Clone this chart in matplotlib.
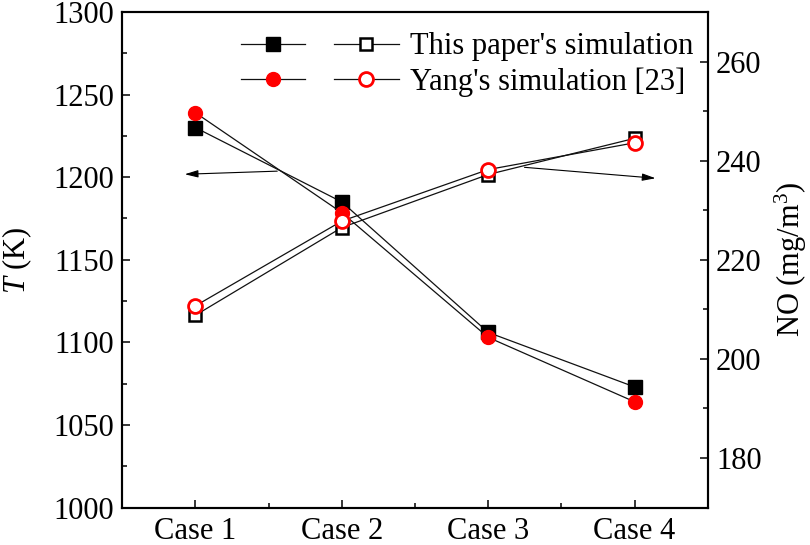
import matplotlib
matplotlib.use("Agg")
import matplotlib.pyplot as plt
from matplotlib.ticker import MultipleLocator, FixedLocator
from matplotlib.legend_handler import HandlerTuple

cases = ["Case 1", "Case 2", "Case 3", "Case 4"]
T_paper = [1230, 1185, 1106, 1073]
T_yang = [1239, 1178.5, 1103, 1064]
NO_paper = [208.8, 226.5, 237.2, 244.5]
NO_yang = [210.7, 227.8, 238.2, 243.6]

plt.rcParams['font.family'] = ['Liberation Serif', 'DejaVu Serif']
plt.rcParams['mathtext.fontset'] = 'custom'
plt.rcParams['mathtext.rm'] = 'Liberation Serif'
plt.rcParams['mathtext.it'] = 'Liberation Serif:italic'

FS = 22
fig = plt.figure(figsize=(8.1, 5.45), dpi=100)
ax = fig.add_axes([0.1509, 0.0688, 0.7229, 0.9092])
ax2 = ax.twinx()

x = list(range(1, len(cases) + 1))
lw = 0.9
ms = 10
l1, = ax.plot(x, T_paper, color='#111111', lw=lw, marker='s', ms=ms,
              mfc='black', mec='black')
l2, = ax.plot(x, T_yang, color='#111111', lw=lw, marker='o', ms=ms,
              mfc='red', mec='red')
l3, = ax2.plot(x, NO_paper, color='#111111', lw=lw, marker='s', ms=ms - 1,
               mfc='white', mec='black', mew=1.8)
l4, = ax2.plot(x, NO_yang, color='#111111', lw=lw, marker='o', ms=ms,
               mfc='white', mec='red', mew=2.0)

ax.set_xlim(0.5, 4.5)
ax.set_ylim(1000, 1300)
ax2.set_ylim(170, 270)
ax.set_xticks(x)
ax.set_xticklabels(cases)
ax.xaxis.set_minor_locator(FixedLocator([1.5, 2.5, 3.5]))
ax.yaxis.set_major_locator(MultipleLocator(50))
ax.yaxis.set_minor_locator(MultipleLocator(25))
ax2.yaxis.set_major_locator(FixedLocator([180, 200, 220, 240, 260]))
ax2.yaxis.set_minor_locator(FixedLocator([190, 210, 230, 250]))

for a in (ax, ax2):
    a.tick_params(which='major', direction='in', length=6, width=1.1,
                  labelsize=FS)
    a.tick_params(which='minor', direction='in', length=3.5, width=1.1)
    for s in a.spines.values():
        s.set_linewidth(1.5)
ax.tick_params(axis='x', pad=7)
ax.tick_params(axis='y', pad=6)
ax2.tick_params(axis='y', pad=6)
ax.tick_params(top=False, which='both')

ax.set_ylabel(r"$T$ (K)", fontsize=FS, labelpad=14)
ax2.set_ylabel(r"NO (mg/m$^3$)", fontsize=FS, labelpad=8)

# direction arrows
ax.annotate("", xy=(0.908, 1201.7), xytext=(1.578, 1203.7),
            arrowprops=dict(arrowstyle='-|>,head_length=0.8,head_width=0.22',
                            color='black', lw=0.8))
ax2.annotate("", xy=(4.162, 236.4), xytext=(3.229, 238.7),
             arrowprops=dict(arrowstyle='-|>,head_length=0.8,head_width=0.22',
                             color='black', lw=0.8))

leg = ax2.legend([(l1, l3), (l2, l4)],
                 ["This paper's simulation", "Yang's simulation [23]"],
                 handler_map={tuple: HandlerTuple(ndivide=None, pad=0.92)},
                 handlelength=5.17, frameon=False, fontsize=FS,
                 loc='upper right', bbox_to_anchor=(0.985, 0.971),
                 borderaxespad=0.0, borderpad=0.2,
                 labelspacing=0.2, handletextpad=0.36)

fig.savefig("out.png", dpi=100)
